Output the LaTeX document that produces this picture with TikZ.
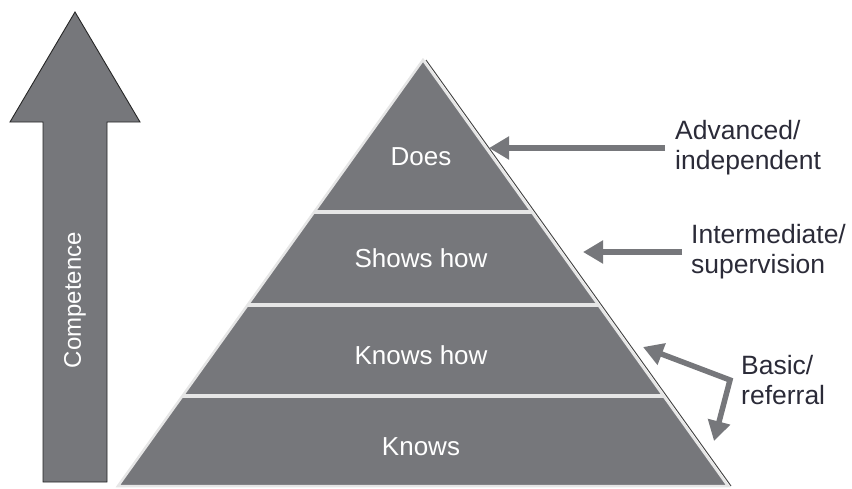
\documentclass[tikz,border=0pt]{standalone}
\usepackage{fontspec}
\setmainfont{Liberation Sans}
\usetikzlibrary{arrows.meta,calc}
\definecolor{pg}{HTML}{76777B}
\definecolor{tx}{HTML}{2B2B38}
\definecolor{sep}{HTML}{E6E6E6}
\begin{document}
\begin{tikzpicture}[x=1pt,y=-1pt,
  layertext/.style={text=white,font=\fontsize{26}{30}\selectfont,inner sep=0pt},
  sidetext/.style={text=tx,font=\fontsize{26.5}{30}\selectfont,align=left,anchor=west,inner sep=0pt},
  arr/.style={draw=pg,line width=5.5pt,-{Triangle[width=22pt,length=20pt]}},
  arrtwo/.style={draw=pg,line width=5.5pt,{Triangle[width=22pt,length=20pt]}-{Triangle[width=22pt,length=20pt]},line join=miter},
  seprule/.style={draw=sep,line width=3.5pt}]
\useasboundingbox (0,0) rectangle (852,488);
% big competence arrow
\draw[fill=pg,draw=black!85,line width=0.9pt,line join=miter]
  (75,12) -- (140,122) -- (107,122) -- (107,482) -- (43,482) -- (43,122) -- (10,122) -- cycle;
\node[rotate=90,text=white,font=\fontsize{24}{28}\selectfont] (comp) at (75,300) {Competence};
% pyramid
\coordinate (A) at (423,60);
\coordinate (BL) at (118,486);
\coordinate (BR) at (728,486);
\draw[fill=pg,draw=sep,line width=2.5pt,line join=miter] (A) -- (BR) -- (BL) -- cycle;
\draw[black!75,line width=0.9pt] ([xshift=3pt]A) -- ([xshift=3pt]BR);
\foreach \yy/\nm in {212/s1,305/s2,396/s3}{
  \coordinate (\nm l) at ($(A)!{(\yy-60)/426}!(BL)$);
  \coordinate (\nm r) at ($(A)!{(\yy-60)/426}!(BR)$);
  \draw[seprule] (\nm l) -- (\nm r);
}
\node[layertext] (does) at (421,157) {Does};
\node[layertext] (shows) at (421,258) {Shows how};
\node[layertext] (knowshow) at (421,355) {Knows how};
\node[layertext] (knows) at (421,447) {Knows};
% side labels
\node[sidetext] (adv) at (675,148) {Advanced/\\independent};
\node[sidetext] (inter) at (691,252) {Intermediate/\\supervision};
\node[sidetext] (basic) at (741,380) {Basic/\\referral};
\coordinate (t1) at (489,148);
\coordinate (t2) at (583,252);
\coordinate (t3) at (643,347);
\coordinate (t4) at (714,441);
\coordinate (corner) at (730,380);
\draw[arr] ([xshift=-10pt]adv.west) -- (t1);
\draw[arr] ([xshift=-9pt]inter.west) -- (t2);
\draw[arrtwo] (t3) -- (corner) -- (t4);
\end{tikzpicture}
\end{document}
